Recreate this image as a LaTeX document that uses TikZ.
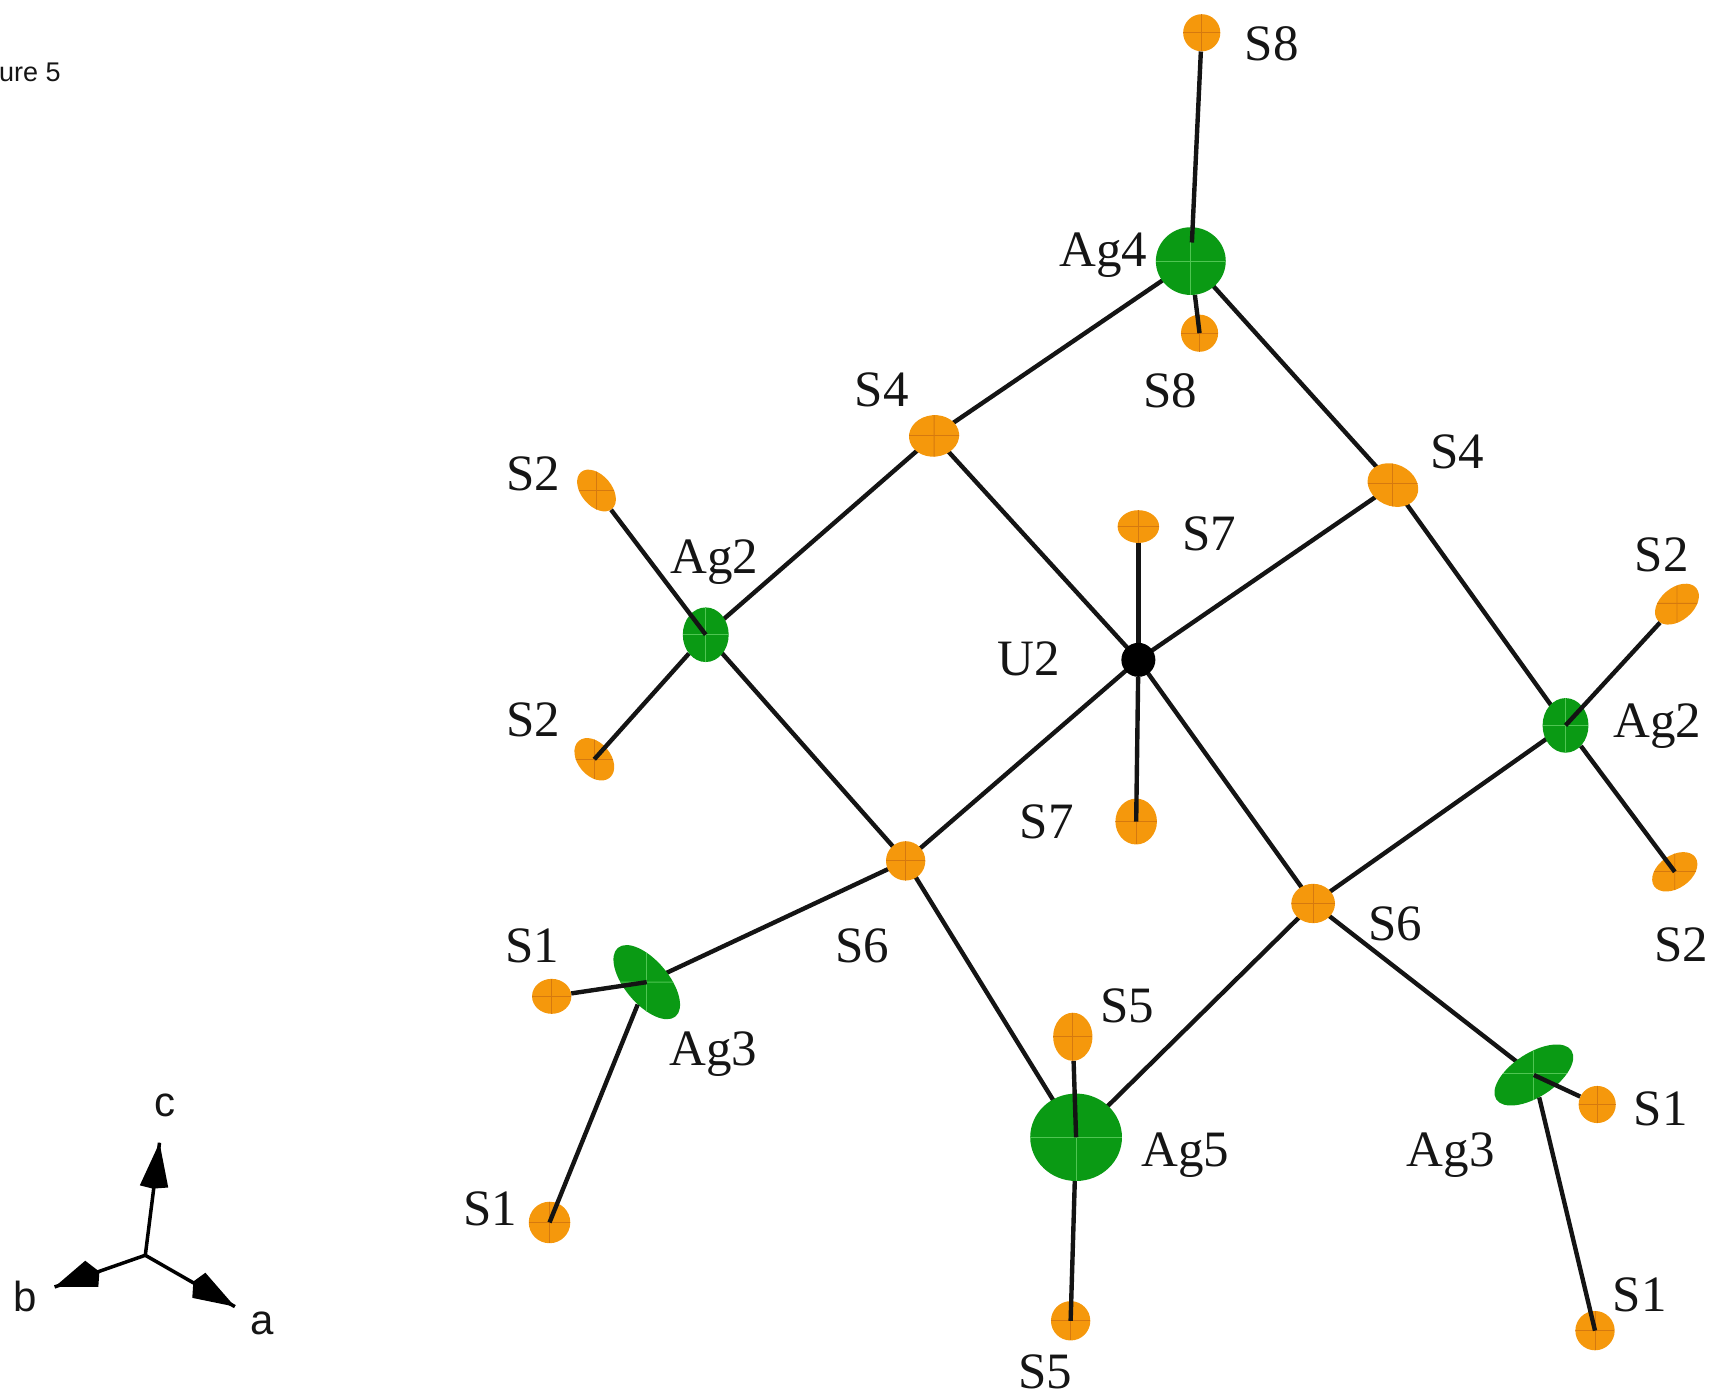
\documentclass[tikz,border=0pt]{standalone}
\usepackage{fontspec}
\setmainfont{Liberation Serif}
\newfontfamily\axfont{Liberation Sans}
\usetikzlibrary{shapes.geometric}
\pgfdeclarelayer{back}
\pgfsetlayers{back,main}
\definecolor{agreen}{HTML}{0A9A14}
\definecolor{agcross}{HTML}{4FC552}
\definecolor{aorange}{HTML}{F5980C}
\definecolor{sucross}{HTML}{D5790F}
\definecolor{atext}{HTML}{151515}
\tikzset{
  atomcross/.style={path picture={
    \draw[#1,line width=0.9pt] (path picture bounding box.west) -- (path picture bounding box.east);
    \draw[#1,line width=0.9pt] (path picture bounding box.north) -- (path picture bounding box.south);}},
  ag/.style n args={3}{ellipse,inner sep=0pt,fill=agreen,minimum width=#1*2.185pt,minimum height=#2*2.185pt,rotate=#3,atomcross=agcross},
  su/.style n args={3}{ellipse,inner sep=0pt,fill=aorange,minimum width=#1*2.185pt,minimum height=#2*2.185pt,rotate=#3,atomcross=sucross},
  uran/.style={circle,inner sep=0pt,fill=black,minimum size=34pt},
  bond/.style={line width=4.4pt,black!92},
  lab/.style={anchor=base,yshift=-16.5pt,text=atext,inner sep=0pt,font=\fontsize{51}{51}\selectfont},
  axlab/.style={inner sep=0pt,font=\axfont\fontsize{42}{42}\selectfont,text=atext},
  axline/.style={line width=3.5pt,black},
  axhead/.style={fill=black},
}
\begin{document}
\begin{tikzpicture}[x=1.0925pt,y=-1.0925pt]
\useasboundingbox (0,0) rectangle (1568,1280);
% atoms
\node[su={17}{17}{0}]   (S8t)  at (1100,30) {};
\node[ag={32}{31}{0}]   (Ag4)  at (1090,239) {};
\node[su={17}{17}{0}]   (S8b)  at (1098,305) {};
\node[su={23}{19}{5}]   (S4a)  at (855,399) {};
\node[su={24}{19}{-25}] (S4b)  at (1275,444) {};
\node[su={19}{15}{0}]   (S7t)  at (1042,482) {};
\node[su={22}{14}{-50}] (S2a)  at (546,449) {};
\node[ag={21}{25}{0}]   (Ag2a) at (646,581) {};
\node[uran]             (U2)   at (1042,604) {};
\node[su={22}{15}{-50}] (S2b)  at (544,695) {};
\node[su={19}{21}{0}]   (S7b)  at (1040,752) {};
\node[su={18}{18}{0}]   (S6a)  at (829,788) {};
\node[su={23}{15}{40}]  (S2c)  at (1535,553) {};
\node[ag={21}{25}{0}]   (Ag2b) at (1433,664) {};
\node[su={23}{15}{35}]  (S2d)  at (1533,798) {};
\node[su={20}{18}{0}]   (S6b)  at (1202,827) {};
\node[ag={41}{20}{-50}] (Ag3a) at (592,899) {};
\node[su={18}{16}{0}]   (S1a)  at (505,912) {};
\node[ag={41}{20}{33}]  (Ag3b) at (1404,984) {};
\node[su={17}{17}{0}]   (S1b)  at (1462,1011) {};
\node[su={18}{22}{0}]   (S5a)  at (982,949) {};
\node[ag={42}{40}{0}]   (Ag5)  at (985,1041) {};
\node[su={18}{18}{0}]   (S5b)  at (980,1209) {};
\node[su={19}{19}{0}]   (S1c)  at (503,1119) {};
\node[su={18}{18}{0}]   (S1d)  at (1460,1218) {};
\coordinate (Ag4j) at (1091,222);
% bonds behind the atoms
\begin{pgfonlayer}{back}
\foreach \p/\q in {Ag4/S4a,Ag4/S4b,S4a/Ag2a,S4a/U2,S4b/U2,S4b/Ag2b,Ag2a/S6a,Ag2b/S6b,
                   S6a/Ag3a,S6a/Ag5,S6b/Ag5,S6b/Ag3b,U2/S6a,U2/S6b,U2/S7t}
  \draw[bond] (\p.center) -- (\q.center);
\end{pgfonlayer}
% bonds that lie over one of their two atoms
\draw[bond] (S8t) -- (Ag4j);
\draw[bond] (Ag4) -- (S8b.center);
\draw[bond] (S2a) -- (Ag2a.center);
\draw[bond] (Ag2a) -- (S2b.center);
\draw[bond] (S2c) -- (Ag2b.center);
\draw[bond] (Ag2b) -- (S2d.center);
\draw[bond] (S1a) -- (Ag3a.center);
\draw[bond] (Ag3a) -- (S1c.center);
\draw[bond] (S1b) -- (Ag3b.center);
\draw[bond] (Ag3b) -- (S1d.center);
\draw[bond] (S5a) -- (Ag5.center);
\draw[bond] (Ag5) -- (S5b.center);
\draw[bond] (U2) -- (S7b.center);
% labels
\node[lab] (l1) at (1164,40) {S8};
\node[lab] (l2) at (1010,229) {Ag4};
\node[lab] (l3) at (1071,358) {S8};
\node[lab] (l4) at (807,357) {S4};
\node[lab] (l5) at (1334,414) {S4};
\node[lab] (l6) at (488,434) {S2};
\node[lab] (l7) at (654,510) {Ag2};
\node[lab] (l8) at (1107,489) {S7};
\node[lab] (l9) at (1521,508) {S2};
\node[lab] (l10) at (942,603) {U2};
\node[lab] (l11) at (1517,660) {Ag2};
\node[lab] (l12) at (488,659) {S2};
\node[lab] (l13) at (958,752) {S7};
\node[lab] (l14) at (1539,865) {S2};
\node[lab] (l15) at (789,866) {S6};
\node[lab] (l16) at (1277,846) {S6};
\node[lab] (l17) at (487,866) {S1};
\node[lab] (l18) at (653,960) {Ag3};
\node[lab] (l19) at (1032,921) {S5};
\node[lab] (l20) at (1085,1053) {Ag5};
\node[lab] (l21) at (1328,1053) {Ag3};
\node[lab] (l22) at (1520,1015) {S1};
\node[lab] (l23) at (449,1107) {S1};
\node[lab] (l24) at (1501,1185) {S1};
\node[lab] (l25) at (957,1256) {S5};
% caption fragment
\node[anchor=base west,inner sep=0pt,font=\axfont\fontsize{27}{27}\selectfont,text=atext] (fig) at (-1,75) {ure 5};
% axes
\coordinate (o) at (133,1149);
\coordinate (ct) at (146,1046);
\coordinate (bt) at (50,1178);
\coordinate (at) at (215,1196);
\draw[axline] (o) -- (ct);
\draw[axline] (o) -- (bt);
\draw[axline] (o) -- (at);
\fill[axhead] (ct) -- (128,1085) -- (140,1088) -- (154,1087) -- cycle;
\fill[axhead] (bt) -- (78,1154) -- (91,1164) -- (90,1178) -- cycle;
\fill[axhead] (at) -- (188,1165) -- (177,1173) -- (176,1188) -- cycle;
\node[axlab] (lc) at (151,1012) {c};
\node[axlab] (lb) at (23,1187) {b};
\node[axlab] (la) at (240,1211) {a};
\end{tikzpicture}
\end{document}
